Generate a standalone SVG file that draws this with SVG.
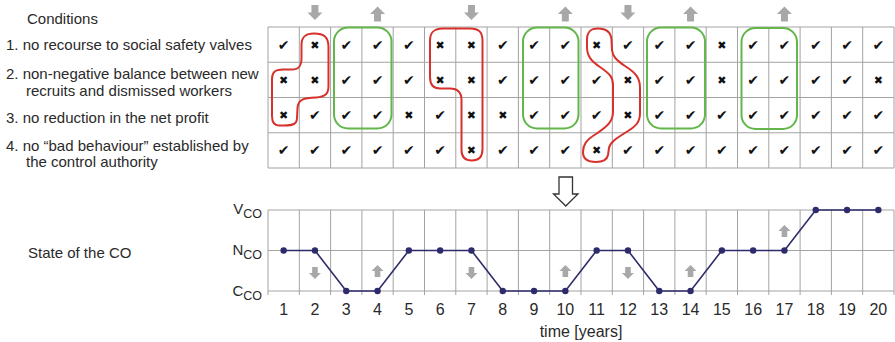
<svg xmlns="http://www.w3.org/2000/svg" xmlns:xlink="http://www.w3.org/1999/xlink" width="895" height="342" viewBox="0 0 895 342">
<style>
.lbl{font-family:"Liberation Sans",Arial,sans-serif;font-size:15px;fill:#2a2a2a}
.num{font-family:"Liberation Sans",Arial,sans-serif;font-size:16px;fill:#2a2a2a;text-anchor:middle}
.ck{font-family:"DejaVu Sans",sans-serif;font-size:14px;fill:#111;text-anchor:middle}
.cx{font-family:"DejaVu Sans",sans-serif;font-size:11px;fill:#111;text-anchor:middle}
.grid{stroke:#a3a3a3;stroke-width:1;fill:none}
.red{fill:none;stroke:#d8312b;stroke-width:2}
.grn{fill:none;stroke:#62b64a;stroke-width:2}
.ga{fill:#a8a8a8}
.dot{fill:#2d2b6b}
</style>
<defs>
<path id="dn" d="M-3.5,-7.5 H3.5 V0 H7.5 L0,7.5 L-7.5,0 H-3.5 Z"/>
<path id="up" d="M-3.5,7.5 H3.5 V0 H7.5 L0,-7.5 L-7.5,0 H-3.5 Z"/>
</defs>
<rect width="895" height="342" fill="#fff"/>

<g id="labels">
<text class="lbl" x="27" y="24" font-size="16">Conditions</text>
<text class="lbl" x="6" y="50">1. no recourse to social safety valves</text>
<text class="lbl" x="6" y="79">2. non-negative balance between new</text>
<text class="lbl" x="26" y="95.5">recruits and dismissed workers</text>
<text class="lbl" x="6" y="123">3. no reduction in the net profit</text>
<text class="lbl" x="6" y="150.5">4. no “bad behaviour” established by</text>
<text class="lbl" x="26" y="167">the control authority</text>
<text class="lbl" x="28" y="258" font-size="16.5">State of the CO</text>
</g>

<g id="table">
<path class="grid" d="M268,27 H894 M268,62.25 H894 M268,97.5 H894 M268,132.75 H894 M268,168 H894
M268,27 V168 M299.3,27 V168 M330.6,27 V168 M361.9,27 V168 M393.2,27 V168 M424.5,27 V168 M455.8,27 V168 M487.1,27 V168 M518.4,27 V168 M549.7,27 V168 M581,27 V168 M612.3,27 V168 M643.6,27 V168 M674.9,27 V168 M706.2,27 V168 M737.5,27 V168 M768.8,27 V168 M800.1,27 V168 M831.4,27 V168 M862.7,27 V168 M894,27 V168"/>
<!-- row 1 -->
<g transform="translate(0,49.5)">
<text class="ck" x="283.65">✔</text><text class="cx" x="314.95" y="-1">✖</text><text class="ck" x="346.25">✔</text><text class="ck" x="377.55">✔</text><text class="ck" x="408.85">✔</text><text class="cx" x="440.15" y="-1">✖</text><text class="cx" x="471.45" y="-1">✖</text><text class="ck" x="502.75">✔</text><text class="ck" x="534.05">✔</text><text class="ck" x="565.35">✔</text><text class="cx" x="596.65" y="-1">✖</text><text class="ck" x="627.95">✔</text><text class="ck" x="659.25">✔</text><text class="ck" x="690.55">✔</text><text class="cx" x="721.85" y="-1">✖</text><text class="ck" x="753.15">✔</text><text class="ck" x="784.45">✔</text><text class="ck" x="815.75">✔</text><text class="ck" x="847.05">✔</text><text class="ck" x="878.35">✔</text>
</g>
<!-- row 2 -->
<g transform="translate(0,84.8)">
<text class="cx" x="283.65" y="-1">✖</text><text class="cx" x="314.95" y="-1">✖</text><text class="ck" x="346.25">✔</text><text class="ck" x="377.55">✔</text><text class="ck" x="408.85">✔</text><text class="cx" x="440.15" y="-1">✖</text><text class="cx" x="471.45" y="-1">✖</text><text class="ck" x="502.75">✔</text><text class="ck" x="534.05">✔</text><text class="ck" x="565.35">✔</text><text class="ck" x="596.65">✔</text><text class="cx" x="627.95" y="-1">✖</text><text class="ck" x="659.25">✔</text><text class="ck" x="690.55">✔</text><text class="cx" x="721.85" y="-1">✖</text><text class="ck" x="753.15">✔</text><text class="ck" x="784.45">✔</text><text class="ck" x="815.75">✔</text><text class="ck" x="847.05">✔</text><text class="cx" x="878.35" y="-1">✖</text>
</g>
<!-- row 3 -->
<g transform="translate(0,120)">
<text class="cx" x="283.65" y="-1">✖</text><text class="ck" x="314.95">✔</text><text class="ck" x="346.25">✔</text><text class="ck" x="377.55">✔</text><text class="cx" x="408.85" y="-1">✖</text><text class="ck" x="440.15">✔</text><text class="cx" x="471.45" y="-1">✖</text><text class="cx" x="502.75" y="-1">✖</text><text class="ck" x="534.05">✔</text><text class="ck" x="565.35">✔</text><text class="ck" x="596.65">✔</text><text class="cx" x="627.95" y="-1">✖</text><text class="ck" x="659.25">✔</text><text class="ck" x="690.55">✔</text><text class="ck" x="721.85">✔</text><text class="ck" x="753.15">✔</text><text class="ck" x="784.45">✔</text><text class="ck" x="815.75">✔</text><text class="ck" x="847.05">✔</text><text class="ck" x="878.35">✔</text>
</g>
<!-- row 4 -->
<g transform="translate(0,155.3)">
<text class="ck" x="283.65">✔</text><text class="ck" x="314.95">✔</text><text class="ck" x="346.25">✔</text><text class="ck" x="377.55">✔</text><text class="ck" x="408.85">✔</text><text class="ck" x="440.15">✔</text><text class="cx" x="471.45" y="-1">✖</text><text class="ck" x="502.75">✔</text><text class="ck" x="534.05">✔</text><text class="ck" x="565.35">✔</text><text class="cx" x="596.65" y="-1">✖</text><text class="ck" x="627.95">✔</text><text class="ck" x="659.25">✔</text><text class="ck" x="690.55">✔</text><text class="ck" x="721.85">✔</text><text class="ck" x="753.15">✔</text><text class="ck" x="784.45">✔</text><text class="ck" x="815.75">✔</text><text class="ck" x="847.05">✔</text><text class="ck" x="878.35">✔</text>
</g>
</g>

<g id="outlines">
<path class="red" d="M314,33.5 C324,33.5 328.5,37 328.5,47 L328.5,86 C328.5,94 325,97 316,97.5 C304,98 298,99 297.5,108 L297,118 C297,124 293,125.5 284,125.5 L279,125.5 C274,125.5 272,122 272,116 L272,80 C272,72 275,69.5 283,69.5 L292,69.5 C299,69.5 301.5,66 301.5,58 L301.5,45 C301.5,37 305,33.5 314,33.5 Z"/>
<path class="red" d="M443,28.5 L470,28.5 C479,28.5 482.5,32 482.5,41 L482.5,149 C482.5,157 479,160.5 472,160.5 C465,160.5 461.5,157 461.5,150 L461.5,100 C461.5,92 458,88.5 450,88.5 L440,88.5 C433,88.5 430,85 430,77 L430,41 C430,32 434,28.5 443,28.5 Z"/>
<path class="red" d="M598,28.5 C606,28.5 611,32 611.5,40 L612,50 C612.5,56 616,60 625,66 C636,73 640,78 640,88 L640,113 C640,122 636,126 628,131 C617,138 610,142 609,148 L608,155 C607,160 603,162 596,162 C588,162 583,159 583,152 C583,145 586,140 596,134 C608,126 613,121 613,112 L613,85 C613,77 610,74 600,67 C591,61 587,56 587,47 L587,40 C587,32 590,28.5 598,28.5 Z"/>
<rect class="grn" x="334" y="27.5" width="57.5" height="101" rx="14"/>
<rect class="grn" x="523" y="27.5" width="55.5" height="101" rx="14"/>
<rect class="grn" x="647" y="27.5" width="58" height="101" rx="14"/>
<rect class="grn" x="741.5" y="28" width="55.5" height="101" rx="14"/>
</g>

<g id="top-arrows">
<use xlink:href="#dn" class="ga" x="314.95" y="12.5"/>
<use xlink:href="#up" class="ga" x="377.55" y="14"/>
<use xlink:href="#dn" class="ga" x="471.45" y="12.5"/>
<use xlink:href="#up" class="ga" x="565.35" y="14"/>
<use xlink:href="#dn" class="ga" x="627.95" y="12.5"/>
<use xlink:href="#up" class="ga" x="690.55" y="14"/>
<use xlink:href="#up" class="ga" x="784.45" y="14"/>
</g>

<g id="big-arrow">
<path d="M559,177 H572.5 V194 H578 L565.75,206 L553.5,194 H559 Z" fill="#fff" stroke="#333" stroke-width="1.3" stroke-linejoin="miter"/>
</g>

<g id="chart">
<path class="grid" d="M268,210 H894 M268,250.5 H894 M268,291 H894
M268,210 V295 M299.3,210 V295 M330.6,210 V295 M361.9,210 V295 M393.2,210 V295 M424.5,210 V295 M455.8,210 V295 M487.1,210 V295 M518.4,210 V295 M549.7,210 V295 M581,210 V295 M612.3,210 V295 M643.6,210 V295 M674.9,210 V295 M706.2,210 V295 M737.5,210 V295 M768.8,210 V295 M800.1,210 V295 M831.4,210 V295 M862.7,210 V295 M894,210 V295"/>
<text class="lbl" x="262" y="214" text-anchor="end" font-size="16">V<tspan font-size="12.5" dy="4">CO</tspan></text>
<text class="lbl" x="262" y="255" text-anchor="end" font-size="16">N<tspan font-size="12.5" dy="4">CO</tspan></text>
<text class="lbl" x="262" y="295.5" text-anchor="end" font-size="16">C<tspan font-size="12.5" dy="4">CO</tspan></text>
<g id="chart-arrows">
<use xlink:href="#dn" class="ga" transform="translate(314.95,273) scale(0.8)"/>
<use xlink:href="#up" class="ga" transform="translate(377.55,271) scale(0.8)"/>
<use xlink:href="#dn" class="ga" transform="translate(471.45,273) scale(0.8)"/>
<use xlink:href="#up" class="ga" transform="translate(565.35,271) scale(0.8)"/>
<use xlink:href="#dn" class="ga" transform="translate(627.95,273) scale(0.8)"/>
<use xlink:href="#up" class="ga" transform="translate(690.55,271) scale(0.8)"/>
<use xlink:href="#up" class="ga" transform="translate(784.45,231) scale(0.8)"/>
</g>
<polyline fill="none" stroke="#2d2b6b" stroke-width="1.6" points="283.65,250.5 314.95,250.5 346.25,291 377.55,291 408.85,250.5 440.15,250.5 471.45,250.5 502.75,291 534.05,291 565.35,291 596.65,250.5 627.95,250.5 659.25,291 690.55,291 721.85,250.5 753.15,250.5 784.45,250.5 815.75,210 847.05,210 878.35,210"/>
<g class="dot">
<circle cx="283.65" cy="250.5" r="3.2"/><circle cx="314.95" cy="250.5" r="3.2"/><circle cx="346.25" cy="291" r="3.2"/><circle cx="377.55" cy="291" r="3.2"/><circle cx="408.85" cy="250.5" r="3.2"/><circle cx="440.15" cy="250.5" r="3.2"/><circle cx="471.45" cy="250.5" r="3.2"/><circle cx="502.75" cy="291" r="3.2"/><circle cx="534.05" cy="291" r="3.2"/><circle cx="565.35" cy="291" r="3.2"/><circle cx="596.65" cy="250.5" r="3.2"/><circle cx="627.95" cy="250.5" r="3.2"/><circle cx="659.25" cy="291" r="3.2"/><circle cx="690.55" cy="291" r="3.2"/><circle cx="721.85" cy="250.5" r="3.2"/><circle cx="753.15" cy="250.5" r="3.2"/><circle cx="784.45" cy="250.5" r="3.2"/><circle cx="815.75" cy="210" r="3.2"/><circle cx="847.05" cy="210" r="3.2"/><circle cx="878.35" cy="210" r="3.2"/>
</g>
<g id="x-axis">
<text class="num" x="283.65" y="315">1</text><text class="num" x="314.95" y="315">2</text><text class="num" x="346.25" y="315">3</text><text class="num" x="377.55" y="315">4</text><text class="num" x="408.85" y="315">5</text><text class="num" x="440.15" y="315">6</text><text class="num" x="471.45" y="315">7</text><text class="num" x="502.75" y="315">8</text><text class="num" x="534.05" y="315">9</text><text class="num" x="565.35" y="315">10</text><text class="num" x="596.65" y="315">11</text><text class="num" x="627.95" y="315">12</text><text class="num" x="659.25" y="315">13</text><text class="num" x="690.55" y="315">14</text><text class="num" x="721.85" y="315">15</text><text class="num" x="753.15" y="315">16</text><text class="num" x="784.45" y="315">17</text><text class="num" x="815.75" y="315">18</text><text class="num" x="847.05" y="315">19</text><text class="num" x="878.35" y="315">20</text>
<text class="num" x="581" y="336.5">time [years]</text>
</g>
</g>
</svg>
